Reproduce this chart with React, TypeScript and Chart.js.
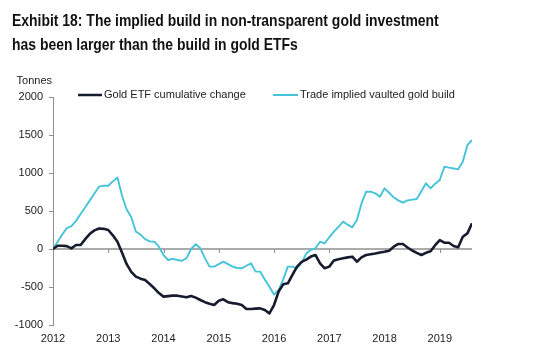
import { useEffect, useRef } from 'react';
import { Chart, registerables } from 'chart.js';
Chart.register(...registerables);

const titleLines = [
  'Exhibit 18: The implied build in non-transparent gold investment',
  'has been larger than the build in gold ETFs',
];
const unitLabel = 'Tonnes';
const seriesNames = ['Gold ETF cumulative change', 'Trade implied vaulted gold build'];
const startYear = 2012;
const yearTicks = [2012, 2013, 2014, 2015, 2016, 2017, 2018, 2019];
const yTicks = [-1000, -500, 0, 500, 1000, 1500, 2000];

// monthly values, Jan 2012 onward (tonnes)
const etfChange = [
  0, 43, 42, 38, 9, 52, 52, 130, 200, 245, 270, 265,
  250, 180, 96, -50, -200, -300, -364, -390, -408, -460, -517, -580,
  -627, -620, -614, -614, -625, -636, -618, -640, -671, -700, -720, -737,
  -680, -662, -700, -712, -720, -737, -790, -790, -785, -781, -803, -847,
  -737, -560, -465, -452, -342, -232, -170, -140, -100, -79, -188, -254,
  -232, -150, -135, -123, -110, -101, -167, -110, -79, -70, -60, -45,
  -35, -22, 30, 66, 66, 20, -20, -50, -79, -50, -30, 50,
  118, 83, 83, 40, 22, 162, 206, 338,
];
const tradeBuild = [
  0, 95, 190, 275, 300, 370, 460, 550, 640, 730, 820, 833,
  833, 890, 940, 700, 520, 420, 228, 190, 130, 100, 96, 30,
  -80, -145, -130, -145, -154, -120, 0, 62, 9, -120, -232, -232,
  -200, -167, -200, -232, -250, -254, -220, -188, -298, -298, -400, -496,
  -600, -540, -400, -232, -232, -254, -180, -60, -10, 9, 96, 75,
  154, 228, 290, 360, 320, 285, 382, 600, 754, 754, 732, 688,
  798, 740, 680, 640, 609, 640, 650, 658, 760, 864, 798, 860,
  908, 1083, 1070, 1060, 1048, 1149, 1368, 1434,
];

const colors = ['#161b2e', '#45c3d8'];

export default function App() {
  const ref = useRef<HTMLCanvasElement | null>(null);
  useEffect(() => {
    if (!ref.current) return;
    const toPoints = (arr: number[]) => arr.map((v, i) => ({ x: startYear + i / 12, y: v }));
    const font = "'Liberation Sans', Arial, sans-serif";
    const deco = {
      id: 'deco',
      beforeDatasetsDraw(chart: any) {
        const { ctx, chartArea, scales } = chart;
        const y0 = scales.y.getPixelForValue(0);
        ctx.save();
        ctx.strokeStyle = '#8f8f8f';
        ctx.lineWidth = 1.5;
        ctx.beginPath();
        ctx.moveTo(chartArea.left, y0);
        ctx.lineTo(chartArea.right, y0);
        ctx.stroke();
        ctx.lineWidth = 1;
        yearTicks.forEach((yr) => {
          if (yr === startYear) return;
          const px = Math.round(scales.x.getPixelForValue(yr)) + 0.5;
          ctx.beginPath();
          ctx.moveTo(px, y0);
          ctx.lineTo(px, y0 + 4);
          ctx.stroke();
        });
        ctx.restore();
      },
      afterDraw(chart: any) {
        const { ctx, chartArea } = chart;
        ctx.save();
        ctx.font = `11px ${font}`;
        ctx.fillStyle = '#222';
        ctx.textBaseline = 'middle';
        ctx.textAlign = 'right';
        ctx.fillText(unitLabel, chartArea.left - 1, chartArea.top - 16);
        ctx.textAlign = 'left';
        const ly = chartArea.top - 2;
        const items = [
          { x0: chartArea.left + 25, w: 24 },
          { x0: chartArea.left + 220, w: 25 },
        ];
        items.forEach((it, i) => {
          ctx.strokeStyle = colors[i];
          ctx.lineWidth = i === 0 ? 2.5 : 2;
          ctx.beginPath();
          ctx.moveTo(it.x0, ly);
          ctx.lineTo(it.x0 + it.w, ly);
          ctx.stroke();
          ctx.fillText(seriesNames[i], it.x0 + it.w + 2, ly);
        });
        ctx.restore();
      },
    };
    const chart = new Chart(ref.current, {
      type: 'line',
      data: {
        datasets: [
          {
            label: seriesNames[0],
            data: toPoints(etfChange),
            borderColor: colors[0],
            borderWidth: 2.6,
            pointRadius: 0,
            tension: 0,
            borderJoinStyle: 'round',
          },
          {
            label: seriesNames[1],
            data: toPoints(tradeBuild),
            borderColor: colors[1],
            borderWidth: 1.9,
            pointRadius: 0,
            tension: 0,
            borderJoinStyle: 'round',
          },
        ],
      },
      options: {
        animation: false,
        responsive: false,
        devicePixelRatio: 1,
        layout: { padding: { left: 0, right: 85, top: 97, bottom: 19 } },
        plugins: { legend: { display: false }, title: { display: false }, tooltip: { enabled: false } },
        scales: {
          x: {
            type: 'linear',
            min: startYear,
            max: startYear + (etfChange.length - 1) / 12,
            afterFit: (s: any) => { s.height = 20; },
            afterBuildTicks: (s: any) => { s.ticks = yearTicks.map((v) => ({ value: v })); },
            ticks: {
              includeBounds: false,
              autoSkip: false,
              maxRotation: 0,
              padding: 7,
              color: '#222',
              font: { family: font, size: 11 },
              callback: (v: any) => String(v),
            },
            grid: { display: false, drawTicks: false, tickLength: 0 },
            border: { display: false },
          },
          y: {
            min: -1000,
            max: 2000,
            afterFit: (s: any) => { s.width = 53; },
            afterBuildTicks: (s: any) => { s.ticks = yTicks.map((v) => ({ value: v })); },
            ticks: {
              padding: 6,
              color: '#222',
              font: { family: font, size: 11 },
              callback: (v: any) => String(v),
            },
            grid: { display: true, drawOnChartArea: false, drawTicks: true, tickLength: 4, color: '#8f8f8f' },
            border: { display: true, color: '#8f8f8f', width: 1 },
          },
        },
      },
      plugins: [deco],
    } as any);
    return () => chart.destroy();
  }, []);
  return (
    <div style={{ position: 'fixed', left: 0, top: 0, width: 557, height: 364, background: '#fff', overflow: 'hidden' }}>
      <canvas ref={ref} width={557} height={364} style={{ position: 'absolute', left: 0, top: 0 }} />
      <div
        style={{
          position: 'absolute',
          left: 12,
          top: 9,
          fontFamily: "'Liberation Sans', Arial, sans-serif",
          fontWeight: 'bold',
          fontSize: 17,
          lineHeight: '24px',
          color: '#111',
          whiteSpace: 'nowrap',
          transform: 'scaleX(0.82)',
          transformOrigin: 'left top',
        }}
      >
        {titleLines.map((t) => (
          <div key={t}>{t}</div>
        ))}
      </div>
    </div>
  );
}
